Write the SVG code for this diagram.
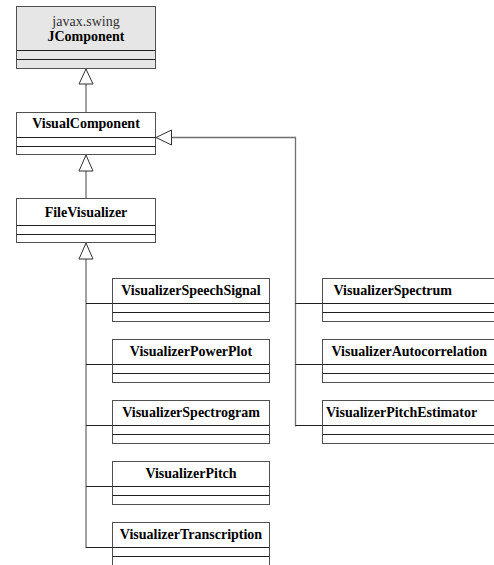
<svg xmlns="http://www.w3.org/2000/svg" width="494" height="565" viewBox="0 0 494 565">
<style>
.box{fill:#fff;stroke:#505050;stroke-width:1}
.jbox{fill:#e6e6e6;stroke:#505050;stroke-width:1}
.sep{stroke:#202020;stroke-width:1;fill:none}
.name{font-family:"Liberation Serif","Times New Roman",serif;font-size:14px;font-weight:bold;fill:#000}
.pkg{font-family:"Liberation Serif","Times New Roman",serif;font-size:14px;fill:#333}
.c{text-anchor:middle}
.edge{stroke:#707070;stroke-width:1.3;fill:none}
.branch{stroke:#202020;stroke-width:1;fill:none}
.tri{fill:#fff;stroke:#303030;stroke-width:1}
</style>
<rect width="494" height="565" fill="#fff"/>
<g id="connectors">
<path class="edge" d="M86,84 V112.5"/>
<path class="edge" d="M86,171 V198.5"/>
<path class="edge" d="M86,259 V548"/>
<path class="edge" d="M171.5,137.5 H295.5 V426.5"/>
<path class="branch" d="M86,303.5 H112.5 M86,364.5 H112.5 M86,425.5 H112.5 M86,486.5 H112.5 M86,547.5 H112.5"/>
<path class="branch" d="M295.5,303.5 H322.5 M295.5,364.5 H322.5 M295.5,425.5 H322.5"/>
<polygon class="tri" points="86,69 93,84 79,84"/>
<polygon class="tri" points="86,155 93,171 79,171"/>
<polygon class="tri" points="86,243 93,259 79,259"/>
<polygon class="tri" points="156,137.5 171.5,130 171.5,145"/>
</g>
<g id="JComponent">
<rect class="jbox" x="16.5" y="6.5" width="139" height="62"/>
<path class="sep" d="M16.5,50.5 H155.5 M16.5,59.5 H155.5"/>
<text class="pkg c" x="86" y="25.5">javax.swing</text>
<text class="name c" x="86" y="41">JComponent</text>
</g>
<g id="VisualComponent">
<rect class="box" x="16.5" y="112.5" width="139" height="42"/>
<path class="sep" d="M16.5,137.5 H155.5 M16.5,146.5 H155.5"/>
<text class="name c" x="86" y="128">VisualComponent</text>
</g>
<g id="FileVisualizer">
<rect class="box" x="16.5" y="198.5" width="139" height="44"/>
<path class="sep" d="M16.5,225.5 H155.5 M16.5,234.5 H155.5"/>
<text class="name c" x="86" y="216.5">FileVisualizer</text>
</g>
<g id="VisualizerSpeechSignal">
<rect class="box" x="112.5" y="278.5" width="157" height="43"/>
<path class="sep" d="M112.5,303.5 H269.5 M112.5,312.5 H269.5"/>
<text class="name c" x="191" y="295">VisualizerSpeechSignal</text>
</g>
<g id="VisualizerPowerPlot">
<rect class="box" x="112.5" y="339.5" width="157" height="43"/>
<path class="sep" d="M112.5,364.5 H269.5 M112.5,373.5 H269.5"/>
<text class="name c" x="191" y="356">VisualizerPowerPlot</text>
</g>
<g id="VisualizerSpectrogram">
<rect class="box" x="112.5" y="400.5" width="157" height="43"/>
<path class="sep" d="M112.5,425.5 H269.5 M112.5,434.5 H269.5"/>
<text class="name c" x="191" y="417">VisualizerSpectrogram</text>
</g>
<g id="VisualizerPitch">
<rect class="box" x="112.5" y="461.5" width="157" height="43"/>
<path class="sep" d="M112.5,486.5 H269.5 M112.5,495.5 H269.5"/>
<text class="name c" x="191" y="478">VisualizerPitch</text>
</g>
<g id="VisualizerTranscription">
<rect class="box" x="112.5" y="522.5" width="157" height="43"/>
<path class="sep" d="M112.5,547.5 H269.5 M112.5,556.5 H269.5"/>
<text class="name c" x="191" y="539">VisualizerTranscription</text>
</g>
<g id="VisualizerSpectrum">
<rect class="box" x="322.5" y="278.5" width="200" height="43"/>
<path class="sep" d="M322.5,303.5 H522.5 M322.5,312.5 H522.5"/>
<text class="name" x="333.5" y="295">VisualizerSpectrum</text>
</g>
<g id="VisualizerAutocorrelation">
<rect class="box" x="322.5" y="339.5" width="200" height="43"/>
<path class="sep" d="M322.5,364.5 H522.5 M322.5,373.5 H522.5"/>
<text class="name" x="331.5" y="356">VisualizerAutocorrelation</text>
</g>
<g id="VisualizerPitchEstimator">
<rect class="box" x="322.5" y="400.5" width="200" height="43"/>
<path class="sep" d="M322.5,425.5 H522.5 M322.5,434.5 H522.5"/>
<text class="name" x="326" y="417">VisualizerPitchEstimator</text>
</g>
</svg>
